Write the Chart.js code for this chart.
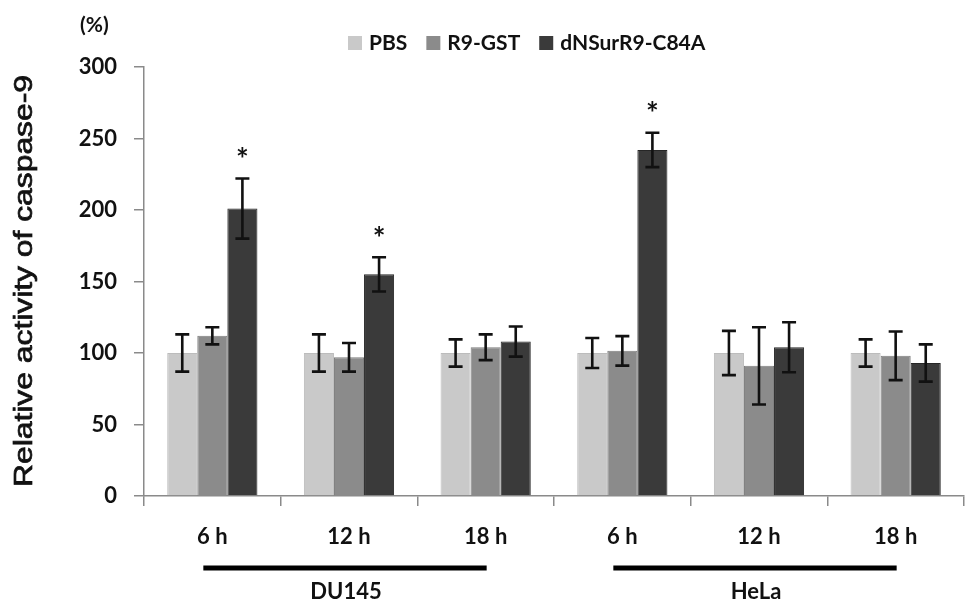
<!DOCTYPE html>
<html>
<head>
<meta charset="utf-8">
<script src="https://cdn.jsdelivr.net/npm/chart.js@4/dist/chart.umd.min.js"></script>
<style>
  html, body { margin: 0; padding: 0; background: #ffffff; }
  #wrap { width: 966px; height: 601px; position: relative; }
</style>
</head>
<body>
<div id="wrap"><canvas id="c"></canvas></div>
<script>
// ---- data ----
const categories = ['6 h', '12 h', '18 h', '6 h', '12 h', '18 h'];
const groupNames = ['DU145', 'HeLa'];
const groupRanges = [[0, 2], [3, 5]];
const seriesNames = ['PBS', 'R9-GST', 'dNSurR9-C84A'];
const pbsValues = [100, 100, 100, 100, 100, 100];
const pbsErrors = [13, 13, 9.5, 10.5, 15.5, 9.5];
const r9gstValues = [112, 97, 104, 101.5, 91, 98];
const r9gstErrors = [6, 10, 9, 10.3, 27, 17];
const dnsurValues = [201, 155, 108, 242, 104, 93];
const dnsurErrors = [21, 12, 10.5, 12, 17.5, 13];
const dnsurSignificant = [true, true, false, true, false, false];
const yMin = 0, yMax = 300, yStep = 50;
const yTitle = 'Relative activity of caspase-9';
const yUnit = '(%)';

// ---- styles ----
const fills = ['#c9c9c9', '#8b8b8b', '#3a3a3a'];
const borders = ['#bcbcbc', '#7d7d7d', '#262626'];
const errorsBySeries = [pbsErrors, r9gstErrors, dnsurErrors];
const boldFont = 'Lato';
const heavy = 'bold';
const textColor = '#111111';
const axisColor = '#8a8a8a';

const errorBarPlugin = {
  id: 'errorBars',
  afterDatasetsDraw(chart) {
    const ctx = chart.ctx;
    const y = chart.scales.y;
    ctx.save();
    ctx.strokeStyle = '#111111';
    ctx.lineWidth = 2.6;
    chart.data.datasets.forEach((ds, i) => {
      const meta = chart.getDatasetMeta(i);
      const errs = errorsBySeries[i];
      meta.data.forEach((bar, j) => {
        const v = ds.data[j], e = errs[j];
        const yt = y.getPixelForValue(v + e);
        const yb = y.getPixelForValue(v - e);
        const x = bar.x, cap = 7;
        ctx.beginPath();
        ctx.moveTo(x, yt); ctx.lineTo(x, yb);
        ctx.moveTo(x - cap, yt); ctx.lineTo(x + cap, yt);
        ctx.moveTo(x - cap, yb); ctx.lineTo(x + cap, yb);
        ctx.stroke();
        if (i === 2 && dnsurSignificant[j]) {
          ctx.fillStyle = '#111111';
          ctx.font = heavy + ' 30px ' + boldFont;
          ctx.textAlign = 'center';
          ctx.textBaseline = 'middle';
          ctx.fillText('*', x, yt - 18);
        }
      });
    });
    ctx.restore();
  }
};

const decorPlugin = {
  id: 'decor',
  afterDraw(chart) {
    const ctx = chart.ctx;
    const xs = chart.scales.x;
    ctx.save();
    // group bars and names
    groupRanges.forEach((r, g) => {
      const x0 = xs.getPixelForValue(r[0]) - 9;
      const x1 = xs.getPixelForValue(r[1]) + 1;
      ctx.strokeStyle = '#000000';
      ctx.lineWidth = 5;
      ctx.beginPath();
      ctx.moveTo(x0, 568); ctx.lineTo(x1, 568);
      ctx.stroke();
      ctx.fillStyle = textColor;
      ctx.font = heavy + ' 22px ' + boldFont;
      ctx.textAlign = 'center';
      ctx.textBaseline = 'middle';
      ctx.fillText(groupNames[g], (xs.getPixelForValue(r[0]) + xs.getPixelForValue(r[1])) / 2 - 3, 592);
    });
    // unit label
    ctx.fillStyle = textColor;
    ctx.font = heavy + ' 21px ' + boldFont;
    ctx.textAlign = 'left';
    ctx.textBaseline = 'middle';
    ctx.fillText(yUnit, 80, 25);
    // y title (rotated)
    ctx.save();
    ctx.translate(25, 281);
    ctx.rotate(-Math.PI / 2);
    ctx.font = '25px "Liberation Sans"';
    const w = ctx.measureText(yTitle).width;
    ctx.scale(412 / w, 1);
    ctx.textAlign = 'center';
    ctx.textBaseline = 'middle';
    ctx.fillStyle = textColor;
    ctx.strokeStyle = textColor;
    ctx.lineWidth = 0.7;
    ctx.fillText(yTitle, 0, 0);
    ctx.strokeText(yTitle, 0, 0);
    ctx.restore();
    // legend
    let lx = 348;
    ctx.font = heavy + ' 21px ' + boldFont;
    ctx.textBaseline = 'alphabetic';
    chart.data.datasets.forEach((ds, i) => {
      ctx.fillStyle = ds.backgroundColor;
      ctx.fillRect(lx, 36, 14, 14);
      lx += 14 + 7;
      ctx.fillStyle = textColor;
      ctx.fillText(ds.label, lx, 50);
      lx += ctx.measureText(ds.label).width + 19;
    });
    ctx.restore();
  }
};

new Chart(document.getElementById('c'), {
  type: 'bar',
  data: {
    labels: categories,
    datasets: [
      { label: seriesNames[0], data: pbsValues, backgroundColor: fills[0], borderColor: borders[0], borderWidth: 1 },
      { label: seriesNames[1], data: r9gstValues, backgroundColor: fills[1], borderColor: borders[1], borderWidth: 1 },
      { label: seriesNames[2], data: dnsurValues, backgroundColor: fills[2], borderColor: borders[2], borderWidth: 1 }
    ]
  },
  options: {
    responsive: true,
    maintainAspectRatio: false,
    animation: false,
    layout: { padding: { top: 67, right: 2, left: 0, bottom: 0 } },
    datasets: { bar: { categoryPercentage: 0.66, barPercentage: 1.0 } },
    plugins: { legend: { display: false }, tooltip: { enabled: false } },
    scales: {
      x: {
        offset: true,
        grid: { display: true, offset: true, drawOnChartArea: false, drawTicks: true, tickLength: 10, color: axisColor, lineWidth: 1.5 },
        border: { display: true, color: axisColor, width: 1.5 },
        ticks: { color: textColor, font: { family: boldFont, size: 22, weight: heavy }, padding: 18, maxRotation: 0 },
        afterFit(s) { s.height = 105; }
      },
      y: {
        min: yMin, max: yMax,
        grid: { display: true, drawOnChartArea: false, drawTicks: true, tickLength: 10, color: axisColor, lineWidth: 1.5 },
        border: { display: true, color: axisColor, width: 1.5 },
        ticks: { stepSize: yStep, color: textColor, font: { family: boldFont, size: 22, weight: heavy }, padding: 17 },
        afterFit(s) { s.width = 144; }
      }
    }
  },
  plugins: [errorBarPlugin, decorPlugin]
});
</script>
</body>
</html>
